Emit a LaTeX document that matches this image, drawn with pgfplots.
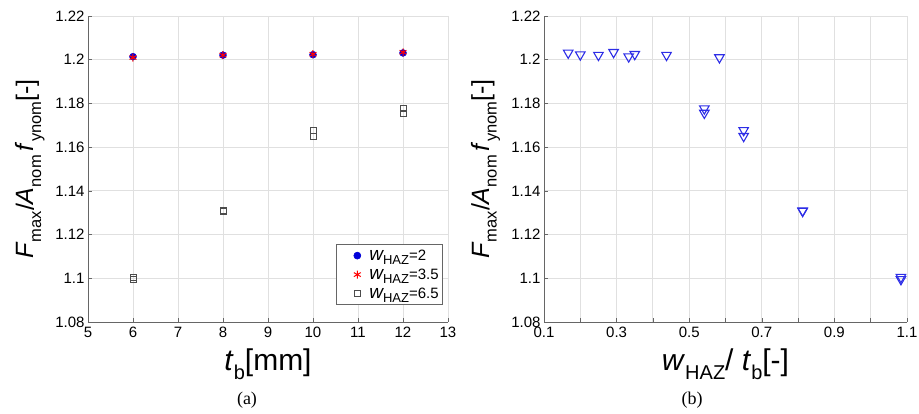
\documentclass[border=0pt]{standalone}
\usepackage{pgfplots}
\pgfplotsset{compat=1.18}
\usepackage{fontspec}
\setmainfont{Liberation Sans}
\newfontfamily\capfont{Liberation Serif}

% label sizes
\newcommand\ylab{\fontsize{25}{28}\selectfont
  \textit{F}\ysub{max}/\textit{A}\ysub{nom}\,\textit{f}\ysub{ynom}[-]}
\newcommand\ysub[1]{\raisebox{-0.55ex}{\fontsize{16.5}{18}\selectfont #1}}
\newcommand\xsub[1]{\raisebox{-0.55ex}{\fontsize{20}{22}\selectfont #1}}
\newcommand\lsub[1]{\raisebox{-0.55ex}{\fontsize{13}{15}\selectfont #1}}
\newcommand\legw[1]{{\fontsize{19}{20}\selectfont\itshape w}\lsub{HAZ}=#1}

\definecolor{axisgray}{gray}{0.4}
\definecolor{gridgray}{gray}{0.88}
\definecolor{circblue}{rgb}{0.0,0.0,0.85}
\definecolor{triblue}{RGB}{45,45,230}
\definecolor{sqgray}{gray}{0.3}

\pgfplotsset{
  panel/.style={
    scale only axis,
    height=306pt,
    axis x line*=bottom, axis y line*=left,
    axis line style={-, draw=axisgray},
    ymin=1.08, ymax=1.22,
    ytick={1.08,1.1,1.12,1.14,1.16,1.18,1.2,1.22},
    yticklabels={1.08,1.1,1.12,1.14,1.16,1.18,1.2,1.22},
    grid=major, grid style={draw=gridgray, line width=0.9pt},
    tick align=inside, major tick length=4pt,
    tick style={draw=axisgray, line width=0.6pt},
    ticklabel style={font=\fontsize{15}{17}\selectfont},
    xticklabel style={yshift=-1.5pt},
    /pgf/number format/assume math mode=true,
    ylabel style={at={(axis description cs:-0.161,0.5)}, anchor=center},
    xlabel style={at={(axis description cs:0.5,-0.137)}, anchor=center},
  },
  % legend image: a single mark with room on the left
  onemark/.style={legend image code/.code={
    \path[draw=none,fill=none] (-19pt,-6pt) rectangle (10pt,6pt);
    \draw[##1] plot coordinates {(0pt,0pt)};}},
}

\begin{document}
\begin{tikzpicture}
\useasboundingbox (0pt,0pt) rectangle (919pt,414pt);

% (a) force ratio against plate thickness
\begin{axis}[panel,
  at={(88pt,92pt)}, anchor=south west, width=360pt,
  xmin=5, xmax=13, xtick={5,6,...,13},
  xlabel={\fontsize{30}{32}\selectfont\textit{t}\xsub{b}[mm]},
  ylabel={\ylab},
  legend style={at={(axis description cs:0.986,0.056)}, anchor=south east,
    draw=axisgray, line width=0.6pt, font=\fontsize{15}{17}\selectfont,
    inner xsep=2pt, inner ysep=3pt, row sep=3pt, cells={anchor=west}},
  legend cell align=left,
]
\addplot[only marks, onemark, mark=*, mark size=3.5pt, color=circblue]
  coordinates {(6,1.2014) (8,1.2021) (10,1.2023) (12,1.2031)};
\addlegendentry{\legw{2}}
\addplot[only marks, onemark, mark=asterisk, mark size=4pt, color=red, line width=1pt]
  coordinates {(6,1.2010) (8,1.2021) (10,1.2025) (12,1.2034)};
\addlegendentry{\legw{3.5}}
\addplot[only marks, onemark, mark=square, mark size=3pt, color=sqgray, line width=0.8pt]
  coordinates {(6,1.1005) (6,1.0995) (8,1.1311) (8,1.1307)
               (10,1.1677) (10,1.1650) (12,1.1776) (12,1.1756)};
\addlegendentry{\legw{6.5}}
\end{axis}

% (b) force ratio against HAZ width over thickness
\begin{axis}[panel,
  at={(544pt,92pt)}, anchor=south west, width=363pt,
  xmin=0.1, xmax=1.1,
  xtick={0.1,0.2,0.3,0.4,0.5,0.6,0.7,0.8,0.9,1.0,1.1},
  xticklabels={0.1,,0.3,,0.5,,0.7,,0.9,,1.1},
  xlabel={\fontsize{30}{32}\selectfont\textit{w}\xsub{HAZ}/ \textit{t}\xsub{b}[-]},
  ylabel={\ylab},
]
\addplot[only marks, mark=triangle, mark options={rotate=180}, mark size=5.5pt,
  color=triblue, line width=1.1pt]
  coordinates {
    (0.1667,1.2031) (0.2000,1.2023) (0.2500,1.2021) (0.3333,1.2014)
    (0.2917,1.2034) (0.3500,1.2025) (0.4375,1.2021) (0.5833,1.2010)
    (0.5417,1.1776) (0.5417,1.1756) (0.6500,1.1677) (0.6500,1.1650)
    (0.8125,1.1309) (0.8125,1.1307) (1.0833,1.1005) (1.0833,1.0995)};
\end{axis}

\node[font=\capfont\fontsize{18}{20}\selectfont] at (247pt,14pt) {(a)};
\node[font=\capfont\fontsize{18}{20}\selectfont] at (692pt,14pt) {(b)};
\end{tikzpicture}
\end{document}
